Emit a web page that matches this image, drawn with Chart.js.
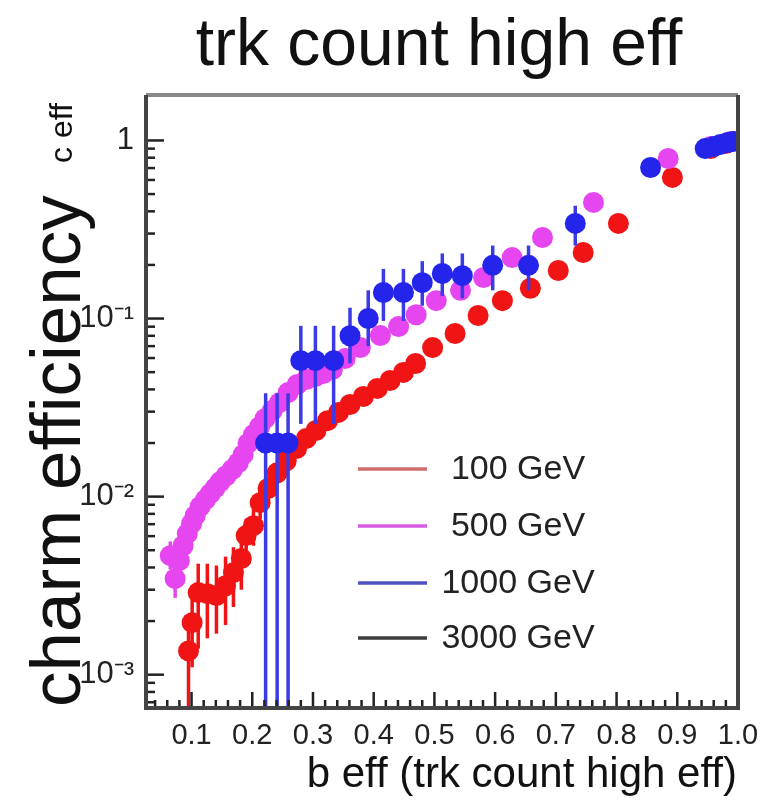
<!DOCTYPE html>
<html>
<head>
<meta charset="utf-8">
<script src="https://cdn.jsdelivr.net/npm/chart.js@4.4.0/dist/chart.umd.min.js"></script>
<style>
  html, body { margin: 0; padding: 0; background: #fff; }
</style>
</head>
<body>
<canvas id="chart" width="763" height="811"></canvas>
<script>
// series labels and colours
const seriesLabels = ['100 GeV', '500 GeV', '1000 GeV', '3000 GeV'];
const markerColors = ['#f01414', '#e646f0', '#2424ea', '#222222'];
const errorColors = ['#f01414', '#e646f0', '#3a3ae6', '#222222'];
const legendColors = ['#cf6e6e', '#d85ae2', '#5050c0', '#3c3c3c'];

// tick labels
const xTickValues = [0.1, 0.2, 0.3, 0.4, 0.5, 0.6, 0.7, 0.8, 0.9, 1.0];
const xTickLabels = ['0.1', '0.2', '0.3', '0.4', '0.5', '0.6', '0.7', '0.8', '0.9', '1.0'];
const yTickValues = [0.001, 0.01, 0.1, 1];
const yTickLabels = ['10⁻³', '10⁻²', '10⁻¹', '1'];

// 100 GeV
const x100 = [0.095, 0.101, 0.111, 0.126, 0.141, 0.156, 0.169, 0.182, 0.190, 0.202, 0.213, 0.226, 0.241, 0.256, 0.273, 0.289, 0.305, 0.324, 0.342, 0.361, 0.383, 0.406, 0.427, 0.449, 0.469, 0.497, 0.534, 0.572, 0.612, 0.658, 0.704, 0.745, 0.803, 0.892, 0.955, 0.980];
const y100 = [0.00136, 0.00196, 0.00289, 0.00285, 0.00278, 0.00316, 0.00374, 0.00449, 0.00604, 0.00687, 0.00925, 0.0111, 0.0136, 0.0159, 0.0186, 0.0212, 0.0235, 0.0267, 0.0297, 0.0329, 0.0365, 0.0405, 0.0449, 0.0498, 0.0559, 0.0687, 0.0824, 0.104, 0.126, 0.148, 0.186, 0.235, 0.342, 0.620, 0.90, 0.96];
const lo100 = [0.0003, 0.0011, 0.0014, 0.0016, 0.0017, 0.0019, 0.0024, 0.0030, 0.0045, 0.0053, 0.0075, 0.0093, 0.0118, 0.0140, null, null, null, null, null, null, null, null, null, null, null, null, null, null, null, null, null, null, null, null, null, null];
const hi100 = [0.0020, 0.0029, 0.0042, 0.0042, 0.0041, 0.0046, 0.0052, 0.0060, 0.0075, 0.0085, 0.011, 0.013, 0.0155, 0.018, null, null, null, null, null, null, null, null, null, null, null, null, null, null, null, null, null, null, null, null, null, null];

// 500 GeV
const x500 = [0.065, 0.073, 0.080, 0.086, 0.093, 0.100, 0.106, 0.114, 0.123, 0.131, 0.139, 0.147, 0.157, 0.167, 0.177, 0.185, 0.193, 0.202, 0.212, 0.221, 0.233, 0.245, 0.259, 0.274, 0.289, 0.304, 0.317, 0.332, 0.353, 0.378, 0.411, 0.441, 0.470, 0.503, 0.543, 0.581, 0.628, 0.678, 0.762, 0.885, 0.955, 0.988];
const y500 = [0.00466, 0.00346, 0.00437, 0.00530, 0.00620, 0.00705, 0.00782, 0.00879, 0.00962, 0.0104, 0.0112, 0.0121, 0.0131, 0.0142, 0.0155, 0.0172, 0.0199, 0.0223, 0.0247, 0.0274, 0.0304, 0.0337, 0.0384, 0.0426, 0.0454, 0.0472, 0.0491, 0.0517, 0.0596, 0.0687, 0.0802, 0.0901, 0.105, 0.126, 0.144, 0.170, 0.220, 0.285, 0.449, 0.792, 0.925, 0.987];
const lo500 = [0.0039, 0.0027, 0.0036, 0.0045, 0.0053, 0.0060, 0.0067, 0.0075, 0.0083, 0.0090, 0.0097, 0.0105, 0.0114, 0.0124, 0.0136, 0.0151, 0.0178, 0.0200, 0.0223, 0.0249, 0.0277, 0.0308, 0.0350, 0.0388, 0.0410, 0.0425, 0.0440, 0.0463, 0.0535, 0.0620, 0.0725, 0.0815, 0.096, null, null, null, null, null, null, null, null, null];
const hi500 = [0.0056, 0.0044, 0.0053, 0.0063, 0.0073, 0.0083, 0.0091, 0.0103, 0.0112, 0.0120, 0.0129, 0.0139, 0.0150, 0.0162, 0.0177, 0.0196, 0.0223, 0.0249, 0.0274, 0.0302, 0.0334, 0.0368, 0.0420, 0.0467, 0.0502, 0.0524, 0.0547, 0.0577, 0.0663, 0.0760, 0.0885, 0.0995, 0.115, null, null, null, null, null, null, null, null, null];

// 1000 GeV
const x1000 = [0.222, 0.241, 0.259, 0.280, 0.304, 0.334, 0.361, 0.391, 0.416, 0.449, 0.480, 0.513, 0.546, 0.596, 0.655, 0.732, 0.856, 0.946, 0.960, 0.971, 0.983, 0.992];
const y1000 = [0.020, 0.020, 0.020, 0.058, 0.058, 0.058, 0.080, 0.100, 0.140, 0.140, 0.159, 0.179, 0.174, 0.199, 0.199, 0.342, 0.705, 0.90, 0.925, 0.95, 0.974, 0.987];
const lo1000 = [0.0002, 0.0002, 0.0002, 0.0256, 0.0256, 0.0256, 0.056, 0.070, 0.097, 0.097, 0.118, 0.134, 0.130, 0.144, 0.144, 0.257, null, null, null, null, null, null];
const hi1000 = [0.038, 0.038, 0.038, 0.091, 0.091, 0.091, 0.115, 0.144, 0.19, 0.19, 0.21, 0.232, 0.232, 0.257, 0.257, 0.43, null, null, null, null, null, null];

// 3000 GeV: only in the legend
const x3000 = [];
const y3000 = [];

function points(xs, ys) {
    return xs.map((x, i) => ({ x: x, y: ys[i] }));
}

const errorBars = [[lo100, hi100], [lo500, hi500], [lo1000, hi1000], [[], []]];

const FONT = '"Liberation Sans", Arial, Helvetica, sans-serif';

const rootStyle = {
    id: 'rootStyle',
    beforeDatasetDraw(chart, args) {
        const i = args.index;
        const [lo, hi] = errorBars[i];
        const meta = chart.getDatasetMeta(i);
        const y = chart.scales.y;
        const area = chart.chartArea;
        const ctx = chart.ctx;
        ctx.save();
        ctx.beginPath();
        ctx.rect(area.left, area.top, area.right - area.left, area.bottom - area.top);
        ctx.clip();
        ctx.strokeStyle = errorColors[i];
        ctx.lineWidth = 3.5;
        meta.data.forEach((pt, k) => {
            if (lo[k] == null) return;
            ctx.beginPath();
            ctx.moveTo(pt.x, y.getPixelForValue(lo[k]));
            ctx.lineTo(pt.x, y.getPixelForValue(hi[k]));
            ctx.stroke();
        });
        ctx.restore();
    },
    afterDraw(chart) {
        const ctx = chart.ctx;
        const a = chart.chartArea;
        const xs = chart.scales.x;
        const ys = chart.scales.y;
        ctx.save();

        // inner ticks
        ctx.strokeStyle = '#222';
        ctx.lineWidth = 2.5;
        for (let v = 0.04; v < 1.0; v += 0.02) {
            const major = Math.abs(v * 10 - Math.round(v * 10)) < 1e-6;
            const px = xs.getPixelForValue(v);
            ctx.beginPath();
            ctx.moveTo(px, a.bottom);
            ctx.lineTo(px, a.bottom - (major ? 16 : 8));
            ctx.stroke();
        }
        for (let d = -4; d <= 0; d++) {
            for (let m = 1; m <= 9; m++) {
                const v = m * Math.pow(10, d);
                if (v < ys.min || v > ys.max) continue;
                const py = ys.getPixelForValue(v);
                ctx.beginPath();
                ctx.moveTo(a.left, py);
                ctx.lineTo(a.left + (m === 1 ? 18 : 9), py);
                ctx.stroke();
            }
        }

        // frame
        ctx.lineWidth = 4;
        ctx.strokeStyle = '#8a8a8a';
        ctx.beginPath();
        ctx.moveTo(a.left, a.top);
        ctx.lineTo(a.right, a.top);
        ctx.stroke();
        ctx.strokeStyle = '#444';
        ctx.beginPath();
        ctx.moveTo(a.right, a.top);
        ctx.lineTo(a.right, a.bottom);
        ctx.lineTo(a.left, a.bottom);
        ctx.lineTo(a.left, a.top);
        ctx.stroke();

        // title
        ctx.fillStyle = '#111';
        ctx.font = '66px ' + FONT;
        ctx.textAlign = 'center';
        ctx.textBaseline = 'alphabetic';
        ctx.fillText('trk count high eff', 439, 65);

        // x title
        ctx.font = '42px ' + FONT;
        ctx.textAlign = 'right';
        ctx.fillText('b eff (trk count high eff)', 737, 787);

        // y titles
        ctx.save();
        ctx.translate(80, 707);
        ctx.rotate(-Math.PI / 2);
        ctx.font = '71px ' + FONT;
        ctx.textAlign = 'left';
        ctx.fillText('charm efficiency', 0, 0);
        ctx.restore();
        ctx.save();
        ctx.translate(72, 103);
        ctx.rotate(-Math.PI / 2);
        ctx.font = '32px ' + FONT;
        ctx.textAlign = 'right';
        ctx.fillText('c eff', 0, 0);
        ctx.restore();

        // legend
        const legendY = [469, 526, 583, 638];
        ctx.font = '34px ' + FONT;
        ctx.textAlign = 'center';
        ctx.textBaseline = 'middle';
        seriesLabels.forEach((lab, i) => {
            ctx.strokeStyle = legendColors[i];
            ctx.lineWidth = 3.5;
            ctx.beginPath();
            ctx.moveTo(358, legendY[i]);
            ctx.lineTo(427, legendY[i]);
            ctx.stroke();
            ctx.fillStyle = '#222';
            ctx.fillText(lab, 518, legendY[i] + 1);
        });
        ctx.restore();
    }
};

const datasets = [
    { label: seriesLabels[0], data: points(x100, y100), order: 3 },
    { label: seriesLabels[1], data: points(x500, y500), order: 2 },
    { label: seriesLabels[2], data: points(x1000, y1000), order: 1 },
    { label: seriesLabels[3], data: points(x3000, y3000), order: 4 }
].map((ds, i) => Object.assign(ds, {
    backgroundColor: markerColors[i],
    borderWidth: 0,
    pointRadius: 10.5,
    pointHoverRadius: 10.5
}));

new Chart(document.getElementById('chart'), {
    type: 'scatter',
    data: { datasets: datasets },
    options: {
        responsive: false,
        animation: false,
        layout: { padding: { top: 95, right: 25, bottom: 0, left: 0 } },
        plugins: {
            legend: { display: false },
            title: { display: false },
            tooltip: { enabled: false }
        },
        scales: {
            x: {
                type: 'linear',
                min: 0.025,
                max: 1.0,
                grid: { display: false },
                border: { display: false },
                afterBuildTicks: scale => { scale.ticks = xTickValues.map(v => ({ value: v })); },
                afterFit: scale => { scale.height = 103; },
                ticks: {
                    padding: 3,
                    maxRotation: 0,
                    autoSkip: false,
                    color: '#222',
                    font: { family: FONT, size: 29 },
                    callback: (v, idx) => xTickLabels[idx]
                }
            },
            y: {
                type: 'logarithmic',
                min: 0.00065,
                max: 1.8,
                grid: { display: false },
                border: { display: false },
                afterBuildTicks: scale => { scale.ticks = yTickValues.map(v => ({ value: v })); },
                afterFit: scale => { scale.width = 146; },
                ticks: {
                    padding: 4,
                    autoSkip: false,
                    color: '#222',
                    font: { family: FONT, size: 31 },
                    callback: (v, idx) => yTickLabels[idx]
                }
            }
        }
    },
    plugins: [rootStyle]
});
</script>
</body>
</html>
